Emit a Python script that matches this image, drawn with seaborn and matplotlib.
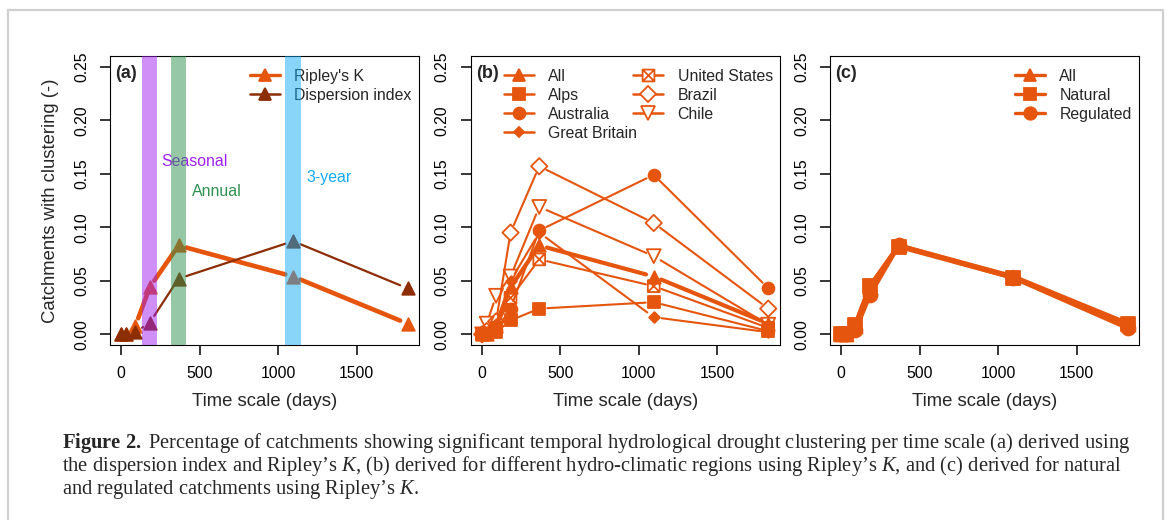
import numpy as np
import pandas as pd
import matplotlib
matplotlib.use("Agg")
import matplotlib.pyplot as plt
from matplotlib.lines import Line2D
from matplotlib.path import Path
import seaborn as sns

# escalas de tiempo (dias)
dias = [1, 30, 90, 182, 365, 1095, 1825]

# panel (a): fraccion de cuencas con agrupamiento
ripley_k = [0.0, 0.0, 0.008, 0.044, 0.083, 0.054, 0.010]
dispersion = [0.0, 0.0, 0.002, 0.011, 0.052, 0.087, 0.043]

# bandas de escala temporal
bandas = [182, 365, 1095]
bandas_txt = ["Seasonal", "Annual", "3-year"]

# panel (b): regiones hidro-climaticas
b_all = [0.0, 0.0, 0.008, 0.044, 0.083, 0.054, 0.010]
b_alps = [0.0, 0.0, 0.002, 0.013, 0.024, 0.030, 0.003]
b_australia = [0.0, 0.0, 0.004, 0.024, 0.097, 0.149, 0.043]
b_gb = [0.0, 0.0, 0.010, 0.050, 0.095, 0.016, 0.002]
b_us = [0.0, 0.0, 0.006, 0.034, 0.070, 0.045, 0.006]
b_brazil = [0.0, 0.003, 0.012, 0.095, 0.157, 0.104, 0.024]
b_chile = [0.0, 0.010, 0.036, 0.054, 0.119, 0.073, 0.009]

# panel (c): naturales vs reguladas
c_all = [0.0, 0.0, 0.008, 0.044, 0.083, 0.054, 0.010]
c_natural = [0.0, 0.0, 0.009, 0.045, 0.082, 0.053, 0.010]
c_regulated = [0.0, 0.0, 0.004, 0.037, 0.083, 0.053, 0.006]

naranja = "#E6550D"
marron = "#8C2D04"
col_bandas = ["#A020F0", "#2E9150", "#14AAF5"]

sns.set_style("ticks", rc={"axes.edgecolor": "black", "xtick.color": "black",
                           "ytick.color": "black", "axes.linewidth": 1.4})
plt.rcParams["font.family"] = ["Liberation Sans", "DejaVu Sans"]
plt.rcParams["mathtext.fontset"] = "custom"
plt.rcParams["mathtext.rm"] = "Liberation Serif"
plt.rcParams["mathtext.it"] = "Liberation Serif:italic"
plt.rcParams["mathtext.bf"] = "Liberation Serif:bold"

# marcador cuadrado con X (pch 7 de R)
cuadro_x = Path([(-1, -1), (1, -1), (1, 1), (-1, 1), (-1, -1),
                 (-1, -1), (1, 1), (-1, 1), (1, -1)],
                [Path.MOVETO, Path.LINETO, Path.LINETO, Path.LINETO, Path.CLOSEPOLY,
                 Path.MOVETO, Path.LINETO, Path.MOVETO, Path.LINETO])


def tramos(ax, x, y, gap=8):
    # segmentos recortados cerca de los puntos (como type="b" en R)
    pts = ax.transData.transform(np.column_stack([x, y]))
    inv = ax.transData.inverted()
    filas = []
    for i in range(len(pts) - 1):
        d = pts[i + 1] - pts[i]
        largo = np.hypot(d[0], d[1])
        if largo <= 2 * gap:
            continue
        u = d / largo
        a, b = inv.transform([pts[i] + u * gap, pts[i + 1] - u * gap])
        filas += [(i, a[0], a[1]), (i, b[0], b[1])]
    return pd.DataFrame(filas, columns=["seg", "x", "y"])


def serie(ax, y, color, lw, marker, ms, hueco=False, mew=1.3, z=2):
    seg = tramos(ax, dias, y)
    if len(seg):
        sns.lineplot(data=seg, x="x", y="y", units="seg", estimator=None, sort=False,
                     color=color, lw=lw, ax=ax, zorder=z, legend=False)
    fc = "none" if hueco else color
    sns.scatterplot(x=dias, y=y, marker=marker, s=ms ** 2, color=color, facecolor=fc,
                    edgecolor=color, linewidth=mew, ax=ax, zorder=z + 0.5, legend=False)


def asa(color, lw, marker, ms, hueco=False, mew=1.3):
    return Line2D([], [], color=color, lw=lw, marker=marker, ms=ms,
                  mfc="white" if hueco else color, mec=color, mew=mew)


def leyenda(ax, handles, labels, x0):
    return ax.legend(handles, labels, loc="upper left", bbox_to_anchor=(x0, 0.955),
                     frameon=False, fontsize=11.4, handlelength=1.9, handletextpad=0.9,
                     labelspacing=0.25, borderpad=0, borderaxespad=0)


fig = plt.figure(figsize=(11.7, 5.2), dpi=100)
izq = [0.0940, 0.4023, 0.7094]
axes = [fig.add_axes([l, 0.3365, 0.2641, 0.5558]) for l in izq]

span = max(dias) - min(dias)
for ax in axes:
    ax.set_xlim(min(dias) - 0.04 * span, max(dias) + 0.04 * span)
    ax.set_ylim(-0.01, 0.26)

# panel (a)
ax = axes[0]
serie(ax, ripley_k, naranja, 3.3, "^", 9)
serie(ax, dispersion, marron, 1.6, "^", 9)
pos_txt = [(252, 0.161), (452, 0.1335), (1178, 0.1466)]
for c, txt, col, (tx, ty) in zip(bandas, bandas_txt, col_bandas, pos_txt):
    ax.text(tx, ty, txt, color=col, fontsize=11.4, ha="left", va="center", zorder=4)
    ax.axvspan(c - 48, c + 48, color=col, alpha=0.5, lw=0, zorder=7)
leyenda(ax, [asa(naranja, 2.4, "^", 9), asa(marron, 1.8, "^", 9)],
        ["Ripley's K", "Dispersion index"], 0.453)

# panel (b)
ax = axes[1]
estilos_b = [
    (b_all, "All", 3.0, "^", 9, False),
    (b_alps, "Alps", 1.5, "s", 8, False),
    (b_australia, "Australia", 1.5, "o", 8.5, False),
    (b_gb, "Great Britain", 1.5, "D", 5.5, False),
    (b_us, "United States", 1.5, cuadro_x, 8.5, True),
    (b_brazil, "Brazil", 1.5, "D", 8.3, True),
    (b_chile, "Chile", 1.5, "v", 10, True),
]
for y, nombre, lw, mk, ms, hueco in estilos_b:
    serie(ax, y, naranja, lw, mk, ms, hueco)
h_b = [asa(naranja, 1.8, mk, ms, hueco) for _, _, _, mk, ms, hueco in estilos_b]
n_b = [e[1] for e in estilos_b]
ley1 = leyenda(ax, h_b[:4], n_b[:4], 0.108)
ax.add_artist(ley1)
leyenda(ax, h_b[4:], n_b[4:], 0.526)

# panel (c)
ax = axes[2]
estilos_c = [
    (c_all, "All", "^", 10),
    (c_natural, "Natural", "s", 9.5),
    (c_regulated, "Regulated", "o", 10),
]
for y, nombre, mk, ms in estilos_c:
    serie(ax, y, naranja, 3.3, mk, ms)
leyenda(ax, [asa(naranja, 2.4, mk, ms * 0.9) for _, _, mk, ms in estilos_c],
        [e[1] for e in estilos_c], 0.599)

# ejes, ticks y etiquetas (despues de seaborn para que no las pise)
for ax, letra in zip(axes, ["(a)", "(b)", "(c)"]):
    ax.set_xticks([0, 500, 1000, 1500])
    ax.set_yticks([0, 0.05, 0.10, 0.15, 0.20, 0.25])
    ax.set_yticklabels([f"{v:.2f}" for v in ax.get_yticks()])
    ax.tick_params(direction="out", length=7, width=1.1, labelsize=11.3, pad=8)
    ax.tick_params(axis="y", labelrotation=90)
    for t in ax.get_yticklabels():
        t.set_va("center")
    ax.set_xlabel("Time scale (days)", fontsize=13.3)
    ax.xaxis.set_label_coords(0.5, -0.165)
    ax.set_ylabel("")
    ax.text(0.016, 0.941, letra, transform=ax.transAxes, fontsize=13,
            fontweight="bold", ha="left", va="center")
axes[0].set_ylabel("Catchments with clustering (-)", fontsize=13.3)
axes[0].yaxis.set_label_coords(-0.165, 0.5)

# pie de figura
lineas = [
    r"$\mathbf{Figure\ 2.}$ Percentage of catchments showing significant temporal hydrological drought clustering per time scale (a) derived using",
    r"the dispersion index and Ripley’s $K$, (b) derived for different hydro-climatic regions using Ripley’s $K$, and (c) derived for natural",
    r"and regulated catchments using Ripley’s $K$.",
]
textos = []
for i, linea in enumerate(lineas):
    textos.append(fig.text(62 / 1170, (520 - 448 - 23 * i) / 520, linea, fontsize=13,
                           family="Liberation Serif", ha="left", va="baseline"))
fig.canvas.draw()
ancho = textos[0].get_window_extent().width
for t in textos:
    t.set_fontsize(13 * 1066 / ancho)

# marco gris
gris = "#d0d0d0"
x0, x1, ytop = 8 / 1170, 1163 / 1170, 510 / 520
for xs, ys in [([x0, x0], [0, ytop]), ([x0, x1], [ytop, ytop]), ([x1, x1], [ytop, 0])]:
    fig.add_artist(Line2D(xs, ys, color=gris, lw=1.6, transform=fig.transFigure))

fig.savefig("out.png", dpi=100)
